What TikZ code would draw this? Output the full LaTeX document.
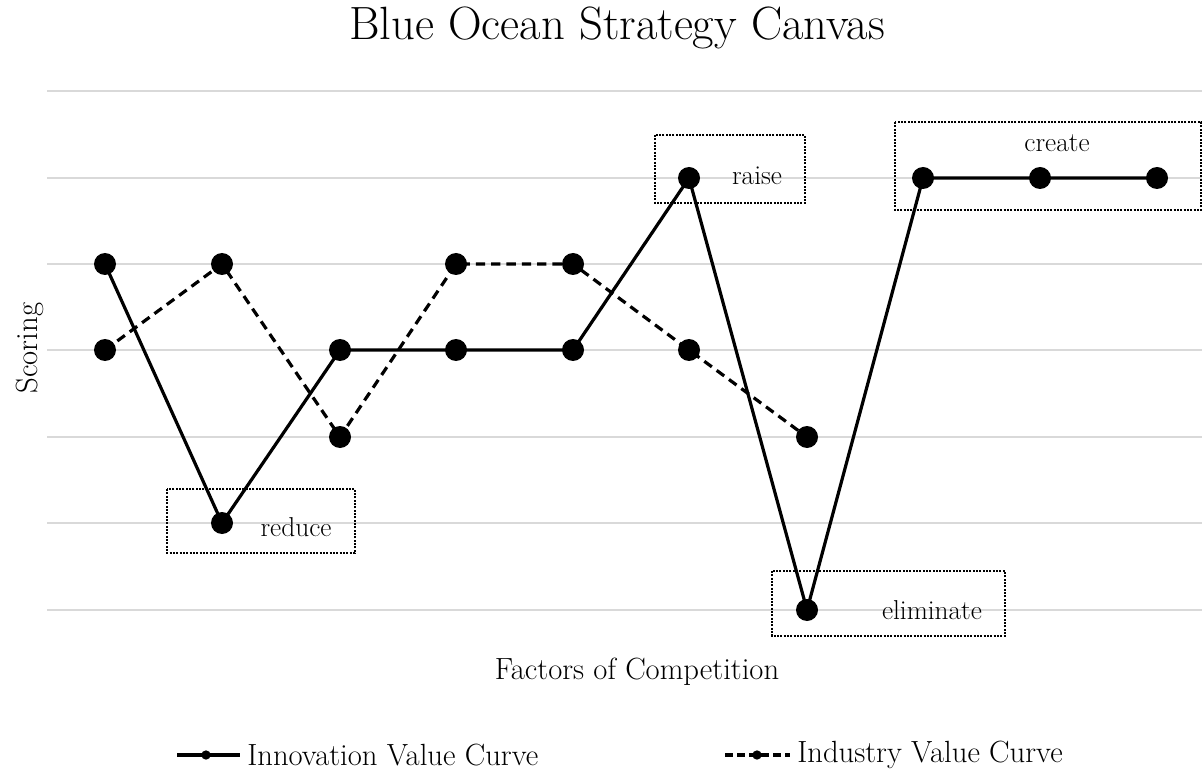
\documentclass[tikz,border=0pt]{standalone}
\usetikzlibrary{positioning}
\begin{document}
\begin{tikzpicture}[x=0.75pt,y=-0.75pt,
  grid/.style={draw=black!15,line width=1.5pt},
  dot/.style={circle,fill=black,inner sep=0pt,minimum size=16.5pt},
  small/.style={circle,fill=black,inner sep=0pt,minimum size=7pt},
  solidline/.style={line width=2.4pt},
  dashline/.style={line width=2.4pt,dash pattern=on 7pt off 4.5pt},
  zone/.style={draw,line width=1.1pt,dash pattern=on 1.5pt off 1pt},
  lbl/.style={font=\fontsize{20.5}{24}\selectfont,inner sep=0pt},
  ttl/.style={font=\fontsize{35}{40}\selectfont,inner sep=0pt},
  axl/.style={font=\fontsize{23}{27}\selectfont,inner sep=0pt}]
\useasboundingbox (0,0) rectangle (1202,773);
% grid
\foreach \y in {91,178,264,350,437,523,610}
  \draw[grid] (47,\y) -- (1202,\y);
% title and axes
\node[ttl] (title) at (617,28) {Blue Ocean Strategy Canvas};
\node[axl,rotate=90] (ylab) at (30,348) {Scoring};
\node[axl] (xlab) at (637,672) {Factors of Competition};
% zones
\draw[zone] (167,489) rectangle (355,553);
\draw[zone] (655,135) rectangle (805,203);
\draw[zone] (772,571) rectangle (1005,636);
\draw[zone] (895,122) rectangle (1201,210);
\node[lbl] (reduce) at (296,527) {reduce};
\node[lbl] (raise) at (757,176) {raise};
\node[lbl] (elim) at (932,610) {eliminate};
\node[lbl] (create) at (1057,143) {create};
% industry curve
\node[dot] (d1) at (105,350) {};
\node[dot] (d2) at (222,264) {};
\node[dot] (d3) at (340,437) {};
\node[dot] (d4) at (456,264) {};
\node[dot] (d5) at (573,264) {};
\node[dot] (d6) at (689,350) {};
\node[dot] (d7) at (807,437) {};
\draw[dashline] (d1.center) -- (d2.center) -- (d3.center) -- (d4.center) -- (d5.center) -- (d6.center) -- (d7.center);
% innovation curve
\node[dot] (s1) at (105,264) {};
\node[dot] (s2) at (222,523) {};
\node[dot] (s3) at (340,350) {};
\node[dot] (s4) at (456,350) {};
\node[dot] (s5) at (573,350) {};
\node[dot] (s6) at (689,178) {};
\node[dot] (s7) at (807,610) {};
\node[dot] (s8) at (923,178) {};
\node[dot] (s9) at (1040,178) {};
\node[dot] (s10) at (1157,178) {};
\draw[solidline] (s1.center) -- (s2.center) -- (s3.center) -- (s4.center) -- (s5.center) -- (s6.center) -- (s7.center) -- (s8.center) -- (s9.center) -- (s10.center);
% legend
\coordinate (la) at (177,755);
\coordinate (lb) at (240,755);
\node[small] (lsd) at (206,755) {};
\draw[solidline] (la) -- (lb);
\node[axl,anchor=west] (ltxt1) at (247,755) {Innovation Value Curve};
\coordinate (lc) at (725,755);
\coordinate (ld) at (790,755);
\node[small] (ldd) at (757,755) {};
\draw[line width=2.4pt,dash pattern=on 6pt off 3pt] (lc) -- (ld);
\node[axl,anchor=west] (ltxt2) at (797,755) {Industry Value Curve};
\end{tikzpicture}
\end{document}
